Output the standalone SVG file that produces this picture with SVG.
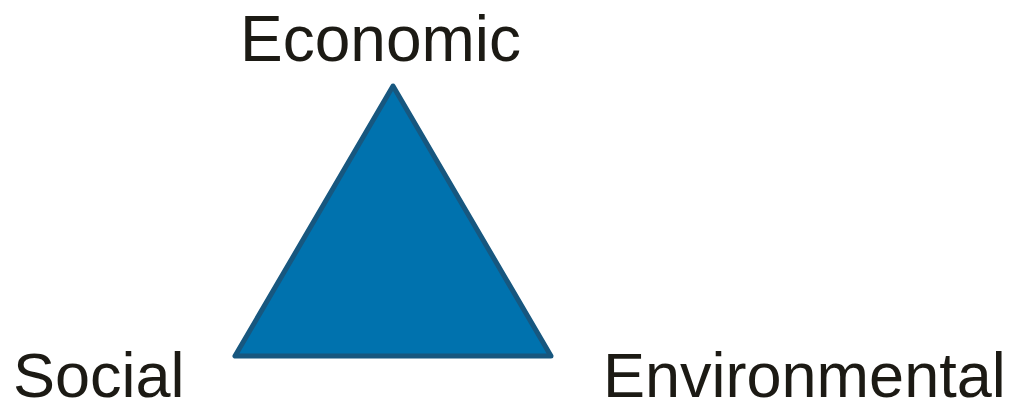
<svg xmlns="http://www.w3.org/2000/svg" width="1014" height="402" viewBox="0 0 1014 402">
<style>
.lbl{font-family:"Liberation Sans",Arial,sans-serif;fill:#1c1a14}
.tri{fill:#0072ae;stroke:#17577f;stroke-width:5;stroke-linejoin:round}
</style>
<rect width="1014" height="402" fill="#ffffff"/>
<g id="triangle"><polygon class="tri" points="393,86 235,356 551,356"/></g>
<g id="economic"><text class="lbl" x="240" y="61" font-size="64">Economic</text></g>
<g id="social"><text class="lbl" x="13" y="397" font-size="63">Social</text></g>
<g id="environmental"><text class="lbl" x="603" y="397" font-size="63">Environmental</text></g>
</svg>
